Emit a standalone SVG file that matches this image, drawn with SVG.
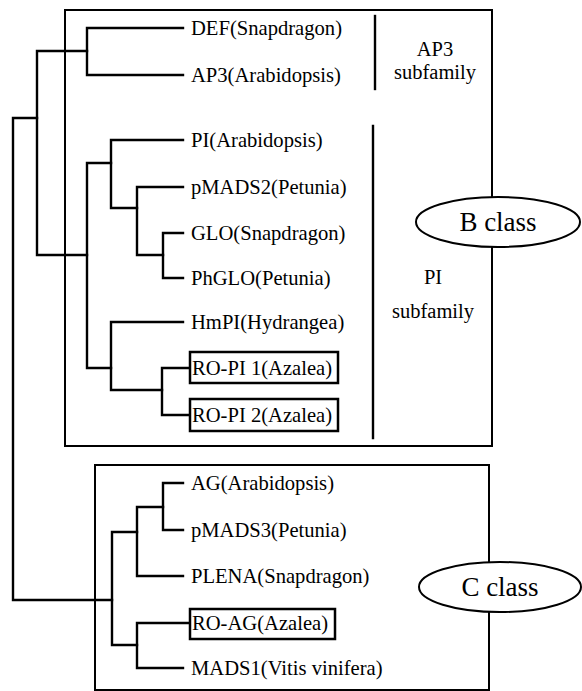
<svg xmlns="http://www.w3.org/2000/svg" width="582" height="691" viewBox="0 0 582 691">
<style>
.ln{fill:none;stroke:#000;stroke-width:2.4;stroke-linecap:square}
.box{fill:none;stroke:#000;stroke-width:2}
.lb{fill:#fff;stroke:#000;stroke-width:2.5}
.t{font-family:"Liberation Serif","Times New Roman",serif;font-size:20.6px;fill:#000}
.s{font-family:"Liberation Serif","Times New Roman",serif;font-size:20.5px;fill:#000;text-anchor:middle}
.c{font-family:"Liberation Serif","Times New Roman",serif;font-size:27px;fill:#000;text-anchor:middle}
.el{fill:#fff;stroke:#000;stroke-width:2}
</style>
<rect width="582" height="691" fill="#fff"/>
<g id="b-class-box"><rect class="box" x="65" y="10" width="427" height="436"/></g>
<g id="c-class-box"><rect class="box" x="95" y="465" width="394" height="225"/></g>
<g id="connectors">
<path class="ln" d="M13,118 H37 M13,118 V600 H112"/>
<path class="ln" d="M37,51 V255 M37,51 H87 M37,255 H87"/>
<path class="ln" d="M87,28 V75 M87,28 H183 M87,75 H183"/>
<path class="ln" d="M87,163 V368 M87,163 H111 M87,368 H111"/>
<path class="ln" d="M111,140 V208 M111,140 H183 M111,208 H137"/>
<path class="ln" d="M137,187 V255 M137,187 H183 M137,255 H163"/>
<path class="ln" d="M163,233 V278 M163,233 H183 M163,278 H183"/>
<path class="ln" d="M111,322 V390 M111,322 H183 M111,390 H162"/>
<path class="ln" d="M162,368 V415 M162,368 H189 M162,415 H189"/>
<path class="ln" d="M112,532 V645 M112,532 H137 M112,645 H137"/>
<path class="ln" d="M137,507 V576 M137,507 H163 M137,576 H183"/>
<path class="ln" d="M163,483 V530 M163,483 H183 M163,530 H183"/>
<path class="ln" d="M137,623 V668 M137,623 H189 M137,668 H183"/>
</g>
<g id="leaf-def"><text class="t" x="191" y="35">DEF(Snapdragon)</text></g>
<g id="leaf-ap3"><text class="t" x="191" y="82">AP3(Arabidopsis)</text></g>
<g id="leaf-pi"><text class="t" x="191" y="147">PI(Arabidopsis)</text></g>
<g id="leaf-pmads2"><text class="t" x="191" y="194">pMADS2(Petunia)</text></g>
<g id="leaf-glo"><text class="t" x="191" y="240">GLO(Snapdragon)</text></g>
<g id="leaf-phglo"><text class="t" x="191" y="285">PhGLO(Petunia)</text></g>
<g id="leaf-hmpi"><text class="t" x="191" y="329">HmPI(Hydrangea)</text></g>
<g id="leaf-ropi1"><rect class="lb" x="190" y="352" width="148" height="31"/><text class="t" x="192" y="375">RO-PI 1(Azalea)</text></g>
<g id="leaf-ropi2"><rect class="lb" x="190" y="399" width="148" height="32"/><text class="t" x="192" y="422">RO-PI 2(Azalea)</text></g>
<g id="leaf-ag"><text class="t" x="191" y="490">AG(Arabidopsis)</text></g>
<g id="leaf-pmads3"><text class="t" x="191" y="537">pMADS3(Petunia)</text></g>
<g id="leaf-plena"><text class="t" x="191" y="583">PLENA(Snapdragon)</text></g>
<g id="leaf-roag"><rect class="lb" x="190" y="609" width="145" height="30"/><text class="t" x="192" y="630">RO-AG(Azalea)</text></g>
<g id="leaf-mads1"><text class="t" x="191" y="675">MADS1(Vitis vinifera)</text></g>
<g id="ap3-subfamily"><path class="ln" d="M375,16 V89"/><text class="s" x="435" y="56">AP3</text><text class="s" x="435" y="79">subfamily</text></g>
<g id="pi-subfamily"><path class="ln" d="M373,126 V438"/><text class="s" x="433" y="284">PI</text><text class="s" x="433" y="318">subfamily</text></g>
<g id="b-class"><ellipse class="el" cx="498" cy="222" rx="82" ry="25"/><text class="c" x="498" y="231">B class</text></g>
<g id="c-class"><ellipse class="el" cx="500" cy="587" rx="81" ry="25"/><text class="c" x="500" y="596">C class</text></g>
</svg>
